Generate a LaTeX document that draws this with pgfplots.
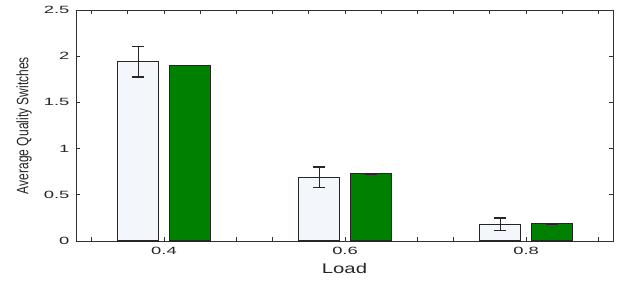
\documentclass[border=0pt]{standalone}
\usepackage{pgfplots}
\pgfplotsset{compat=1.18}
\usepackage{fontspec}
\setmainfont{Liberation Sans}
\definecolor{lightbar}{RGB}{243,247,252}
\definecolor{darkgreen}{RGB}{0,128,0}
\definecolor{axisgray}{RGB}{50,50,50}
\newcommand{\wl}[1]{\scalebox{1.75}[1]{#1}}
\begin{document}
\begin{tikzpicture}
\useasboundingbox (-76pt,-41pt) rectangle (549pt,241pt);
\begin{axis}[at={(0,0)}, anchor=south west, scale only axis, width=537pt, height=231pt,
  xmin=0.3028, xmax=0.896, ymin=0, ymax=2.5,
  xtick={0.4,0.6,0.8}, xticklabels={\wl{0.4},\wl{0.6},\wl{0.8}},
  minor xtick={0.32,0.36,0.44,0.48,0.52,0.56,0.64,0.68,0.72,0.76,0.84,0.88},
  ytick={0,0.5,1,1.5,2,2.5}, yticklabels={\wl{0},\wl{0.5},\wl{1},\wl{1.5},\wl{2},\wl{2.5}},
  tick align=inside, major tick length=4pt, minor tick length=4pt,
  axis line style={axisgray, line width=0.9pt},
  every tick/.style={axisgray, line width=0.8pt},
  tick label style={font=\fontsize{10.5}{12}\selectfont, color=black!85},
  xticklabel style={yshift=-3pt},
  yticklabel style={xshift=-3pt},
  /pgf/number format/assume math mode=true,
  xlabel={\scalebox{1.45}[1]{Load}},
  xlabel style={at={([yshift=-27pt]axis description cs:0.5,0)}, anchor=center, font=\fontsize{14}{16}\selectfont, color=black!85},
  ylabel={\scalebox{0.73}[1]{Average Quality Switches}},
  ylabel style={at={([xshift=-52pt]axis description cs:0,0.5)}, anchor=center, font=\fontsize{16.5}{18}\selectfont, color=black!85},
  clip=false,
]
\addplot[ybar, bar width=41pt, bar shift=0pt, fill=lightbar, draw=black!85, line width=1.1pt,
  error bars/.cd, y dir=both, y explicit,
  error bar style={line width=1.2pt, black!85},
  error mark options={rotate=90, mark size=6pt, line width=1.2pt, black!85}]
  table[x=x, y=y, y error=e] {
x y e
0.3715 1.94 0.165
0.5715 0.69 0.11
0.7715 0.18 0.068
};
\addplot[ybar, bar width=41pt, bar shift=0pt, fill=darkgreen, draw=black!85, line width=1.1pt,
  error bars/.cd, y dir=both, y explicit,
  error bar style={line width=1.2pt, black!85},
  error mark options={rotate=90, mark size=6pt, line width=1.2pt, black!85}]
  table[x=x, y=y, y error=e] {
x y e
0.4285 1.90 0.003
0.6285 0.728 0.003
0.8285 0.187 0.003
};
\end{axis}
\end{tikzpicture}
\end{document}
